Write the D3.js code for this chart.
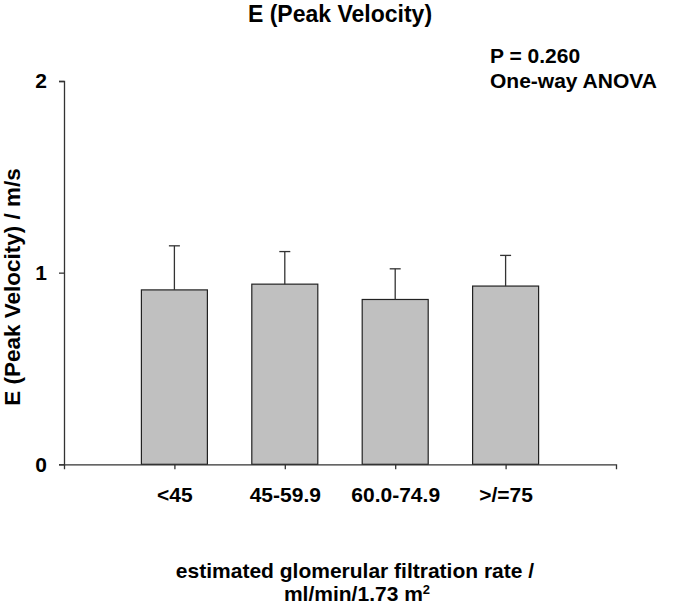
<!DOCTYPE html>
<html><head><meta charset="utf-8">
<script src="https://cdn.jsdelivr.net/npm/d3@7"></script>
<style>body{margin:0;background:#fff}svg{display:block}text{font-family:"Liberation Sans",Arial,sans-serif;font-weight:bold;fill:#000}</style>
</head><body><svg id="c" width="685" height="610"></svg>
<script>
const categories = ["<45", "45-59.9", "60.0-74.9", ">/=75"];
const means = [0.91, 0.94, 0.86, 0.93];
const upperErr = [1.14, 1.11, 1.02, 1.09];
const yTicks = [0, 1, 2];

const svg = d3.select("#c");
const x = d3.scaleLinear().domain([0, 5]).range([64, 616]);
const y = d3.scaleLinear().domain([0, 2]).range([464.3, 81]);
const bw = 66;

// bars
svg.selectAll("rect.bar").data(means).join("rect")
  .attr("x", (d,i)=>x(i+1)-bw/2).attr("y", d=>y(d))
  .attr("width", bw).attr("height", d=>y(0)-y(d))
  .attr("fill", "#c0c0c0").attr("stroke", "#222").attr("stroke-width", 1.2);

// error bars
svg.selectAll("line.err").data(upperErr).join("line")
  .attr("x1", (d,i)=>x(i+1)).attr("x2", (d,i)=>x(i+1))
  .attr("y1", (d,i)=>y(means[i])).attr("y2", d=>y(d))
  .attr("stroke", "#333").attr("stroke-width", 1.3);
svg.selectAll("line.cap").data(upperErr).join("line")
  .attr("x1", (d,i)=>x(i+1)-5.5).attr("x2", (d,i)=>x(i+1)+5.5)
  .attr("y1", d=>y(d)).attr("y2", d=>y(d))
  .attr("stroke", "#333").attr("stroke-width", 1.3);

// y axis
const ya = svg.append("g").attr("transform", "translate(64,0)")
  .call(d3.axisLeft(y).tickValues(yTicks).tickFormat(d3.format("d")).tickSizeOuter(0).tickSize(5).tickPadding(12));
ya.select(".domain").attr("stroke", "#333").attr("stroke-width", 1.3);
ya.selectAll(".tick line").attr("stroke", "#333").attr("stroke-width", 1.3);
ya.selectAll(".tick text").attr("font-size", 21).attr("font-family", "Liberation Sans").attr("font-weight", "bold").attr("fill", "#000");

// x axis
const xa = svg.append("g").attr("transform", `translate(0,${y(0)})`)
  .call(d3.axisBottom(x).tickValues([1,2,3,4]).tickFormat((d)=>categories[d-1]).tickSizeOuter(0).tickSize(5).tickPadding(18));
xa.select(".domain").attr("stroke", "#333").attr("stroke-width", 1.3);
xa.selectAll(".tick line").attr("stroke", "#333").attr("stroke-width", 1.3);
xa.selectAll(".tick text").attr("font-size", 21).attr("font-family", "Liberation Sans").attr("font-weight", "bold").attr("fill", "#000");

// title
svg.append("text").attr("x", 340).attr("y", 22).attr("text-anchor", "middle").attr("font-size", 23).text("E (Peak Velocity)");
svg.append("text").attr("x", 490).attr("y", 63).attr("font-size", 21).text("P = 0.260");
svg.append("text").attr("x", 490).attr("y", 88).attr("font-size", 21).text("One-way ANOVA");

// y title
svg.append("text").attr("transform", "translate(20,287) rotate(-90)").attr("text-anchor", "middle").attr("font-size", 22.5).text("E (Peak Velocity) / m/s");

// x title
svg.append("text").attr("x", 355).attr("y", 578).attr("text-anchor", "middle").attr("font-size", 21).text("estimated glomerular filtration rate /");
const t2 = svg.append("text").attr("x", 357).attr("y", 601).attr("text-anchor", "middle").attr("font-size", 21);
t2.append("tspan").text("ml/min/1.73 m");
t2.append("tspan").attr("font-size", 13).attr("dy", -7).text("2");
</script></body></html>
